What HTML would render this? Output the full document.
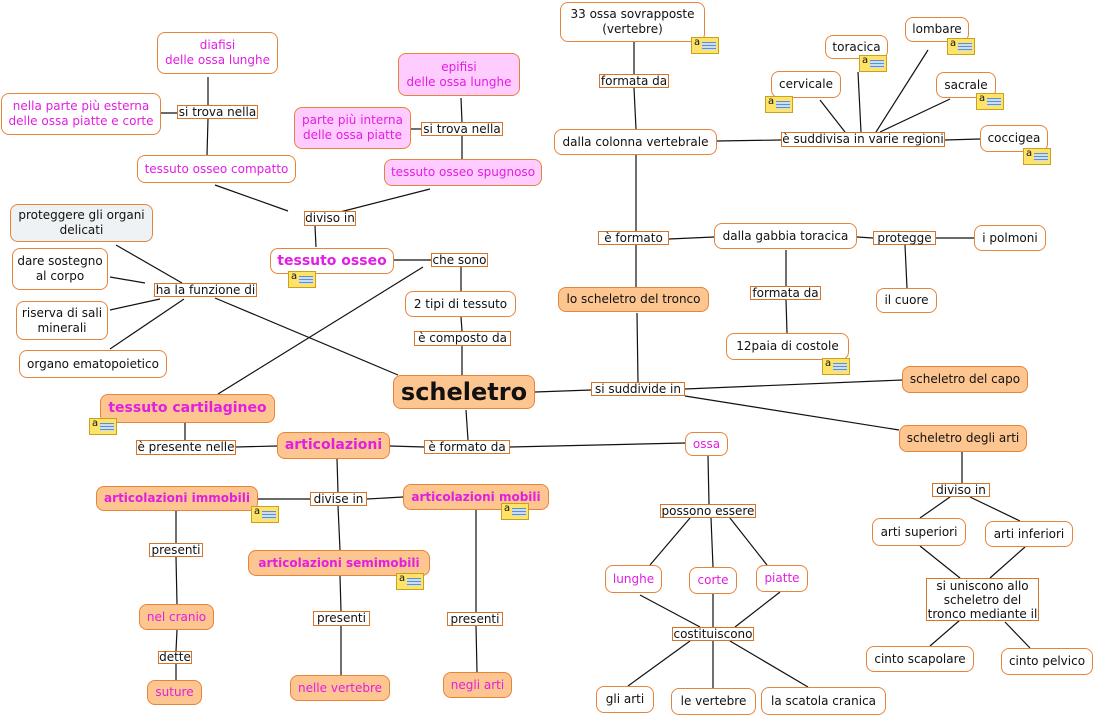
<!DOCTYPE html>
<html><head><meta charset="utf-8"><style>
body{margin:0;width:1095px;height:717px;background:#fff;position:relative;overflow:hidden;font-family:"DejaVu Sans","Liberation Sans",sans-serif;font-size:12px;color:#111}
.n{position:absolute;box-sizing:border-box;border:1.5px solid #e8843a;border-radius:8px;background:#fff;display:flex;align-items:center;justify-content:center;text-align:center;line-height:15px;white-space:nowrap}
.m{color:#e21ee2}.p{background:#ffccff}.o{background:#fdc590}.g{background:#eef2f4}
.b{font-weight:bold}
.l{position:absolute;box-sizing:border-box;border:1.2px solid #d8742a;background:#fff;display:flex;align-items:center;justify-content:center;line-height:13px;white-space:nowrap;font-size:12px}
.i{position:absolute;width:28px;height:17px;background:#fde36a;border:1px solid #c9a21a;box-sizing:border-box;font-size:10px;line-height:10px;padding-left:2px}
.i:after{content:"";position:absolute;left:10px;top:4px;width:14px;height:8px;background:repeating-linear-gradient(#5a8fd0 0 1px,#cde 1px 3px)}
svg{position:absolute;left:0;top:0}
</style></head><body>
<svg width="1095" height="717" stroke="#111" stroke-width="1.2">
<line x1="634" y1="42" x2="634" y2="74"/><line x1="634" y1="88" x2="636" y2="129"/>
<line x1="717" y1="141" x2="781" y2="140"/><line x1="945" y1="140" x2="980" y2="139"/>
<line x1="861" y1="132" x2="858" y2="72"/><line x1="876" y1="132" x2="928" y2="50"/>
<line x1="845" y1="132" x2="820" y2="100"/><line x1="880" y1="132" x2="950" y2="99"/>
<line x1="636" y1="155" x2="636" y2="231"/><line x1="636" y1="245" x2="636" y2="287"/>
<line x1="669" y1="239" x2="714" y2="237"/><line x1="857" y1="237" x2="873" y2="238"/>
<line x1="936" y1="238" x2="974" y2="238"/><line x1="905" y1="245" x2="907" y2="288"/>
<line x1="786" y1="250" x2="786" y2="286"/><line x1="786" y1="300" x2="787" y2="333"/>
<line x1="637" y1="313" x2="638" y2="382"/><line x1="685" y1="389" x2="902" y2="380"/>
<line x1="685" y1="396" x2="899" y2="430"/><line x1="535" y1="392" x2="591" y2="390"/>
<line x1="461" y1="317" x2="462" y2="331"/><line x1="462" y1="346" x2="462" y2="375"/>
<line x1="461" y1="267" x2="461" y2="291"/><line x1="394" y1="260" x2="431" y2="260"/>
<line x1="423" y1="267" x2="218" y2="394"/><line x1="215" y1="298" x2="398" y2="375"/>
<line x1="208" y1="77" x2="208" y2="105"/><line x1="208" y1="119" x2="207" y2="155"/>
<line x1="158" y1="113" x2="177" y2="113"/>
<line x1="461" y1="98" x2="462" y2="122"/><line x1="462" y1="136" x2="462" y2="159"/>
<line x1="411" y1="129" x2="421" y2="129"/>
<line x1="215" y1="185" x2="288" y2="211"/><line x1="430" y1="189" x2="340" y2="212"/>
<line x1="315" y1="226" x2="316" y2="247"/>
<line x1="116" y1="245" x2="182" y2="283"/><line x1="110" y1="277" x2="145" y2="283"/>
<line x1="110" y1="310" x2="160" y2="299"/><line x1="110" y1="349" x2="184" y2="299"/>
<line x1="466" y1="410" x2="468" y2="440"/><line x1="390" y1="446" x2="424" y2="447"/>
<line x1="510" y1="447" x2="685" y2="443"/><line x1="277" y1="446" x2="236" y2="447"/>
<line x1="185" y1="440" x2="185" y2="423"/>
<line x1="337" y1="459" x2="338" y2="492"/><line x1="258" y1="499" x2="310" y2="499"/>
<line x1="367" y1="499" x2="403" y2="497"/><line x1="338" y1="506" x2="340" y2="550"/>
<line x1="176" y1="511" x2="176" y2="543"/><line x1="176" y1="557" x2="177" y2="604"/>
<line x1="177" y1="630" x2="176" y2="651"/><line x1="176" y1="664" x2="176" y2="680"/>
<line x1="340" y1="576" x2="341" y2="611"/><line x1="341" y1="626" x2="341" y2="675"/>
<line x1="476" y1="510" x2="476" y2="612"/><line x1="476" y1="626" x2="477" y2="672"/>
<line x1="708" y1="456" x2="709" y2="504"/><line x1="690" y1="518" x2="650" y2="565"/>
<line x1="711" y1="518" x2="713" y2="567"/><line x1="730" y1="518" x2="767" y2="565"/>
<line x1="640" y1="595" x2="700" y2="627"/><line x1="713" y1="594" x2="713" y2="627"/>
<line x1="780" y1="592" x2="735" y2="627"/>
<line x1="690" y1="641" x2="628" y2="686"/><line x1="713" y1="641" x2="713" y2="688"/>
<line x1="730" y1="641" x2="808" y2="687"/>
<line x1="962" y1="452" x2="962" y2="483"/><line x1="950" y1="497" x2="920" y2="518"/>
<line x1="970" y1="497" x2="1020" y2="521"/><line x1="920" y1="546" x2="960" y2="578"/>
<line x1="1025" y1="547" x2="990" y2="578"/><line x1="960" y1="620" x2="930" y2="646"/>
<line x1="1005" y1="622" x2="1030" y2="648"/>
</svg>
<div class="n" style="left:560px;top:2px;width:145px;height:40px">33 ossa sovrapposte<br>(vertebre)</div>
<div class="n m" style="left:157px;top:32px;width:121px;height:42px">diafisi<br>delle ossa lunghe</div>
<div class="n m p" style="left:398px;top:53px;width:122px;height:43px">epifisi<br>delle ossa lunghe</div>
<div class="n m" style="left:1px;top:93px;width:160px;height:42px">nella parte più esterna<br>delle ossa piatte e corte</div>
<div class="n m p" style="left:294px;top:107px;width:117px;height:42px">parte più interna<br>delle ossa piatte</div>
<div class="n m" style="left:137px;top:155px;width:159px;height:28px">tessuto osseo compatto</div>
<div class="n m p" style="left:384px;top:159px;width:158px;height:27px">tessuto osseo spugnoso</div>
<div class="n" style="left:554px;top:129px;width:163px;height:26px">dalla colonna vertebrale</div>
<div class="n" style="left:825px;top:35px;width:63px;height:24px">toracica</div>
<div class="n" style="left:905px;top:17px;width:64px;height:25px">lombare</div>
<div class="n" style="left:771px;top:71px;width:70px;height:27px">cervicale</div>
<div class="n" style="left:936px;top:72px;width:60px;height:26px">sacrale</div>
<div class="n" style="left:980px;top:125px;width:68px;height:27px">coccigea</div>
<div class="n g" style="left:10px;top:204px;width:143px;height:38px">proteggere gli organi<br>delicati</div>
<div class="n" style="left:12px;top:248px;width:96px;height:42px">dare sostegno<br>al corpo</div>
<div class="n" style="left:16px;top:301px;width:92px;height:39px">riserva di sali<br>minerali</div>
<div class="n" style="left:19px;top:350px;width:148px;height:28px">organo ematopoietico</div>
<div class="n m b" style="left:270px;top:248px;width:124px;height:26px;font-size:14px">tessuto osseo</div>
<div class="n" style="left:714px;top:223px;width:143px;height:26px">dalla gabbia toracica</div>
<div class="n" style="left:974px;top:225px;width:72px;height:26px">i polmoni</div>
<div class="n" style="left:876px;top:288px;width:61px;height:25px">il cuore</div>
<div class="n" style="left:405px;top:291px;width:111px;height:26px">2 tipi di tessuto</div>
<div class="n o" style="left:558px;top:287px;width:151px;height:25px">lo scheletro del tronco</div>
<div class="n" style="left:726px;top:333px;width:123px;height:27px">12paia di costole</div>
<div class="n o b" style="left:393px;top:375px;width:142px;height:34px;font-size:24px">scheletro</div>
<div class="n o" style="left:902px;top:366px;width:126px;height:27px">scheletro del capo</div>
<div class="n o m b" style="left:100px;top:394px;width:175px;height:29px;font-size:14px">tessuto cartilagineo</div>
<div class="n o m b" style="left:277px;top:432px;width:113px;height:27px;font-size:14px">articolazioni</div>
<div class="n o" style="left:899px;top:425px;width:128px;height:27px">scheletro degli arti</div>
<div class="n m" style="left:685px;top:432px;width:43px;height:24px">ossa</div>
<div class="n o m b" style="left:96px;top:486px;width:162px;height:25px">articolazioni immobili</div>
<div class="n o m b" style="left:403px;top:484px;width:146px;height:26px">articolazioni mobili</div>
<div class="n" style="left:872px;top:518px;width:94px;height:28px">arti superiori</div>
<div class="n" style="left:985px;top:521px;width:88px;height:26px">arti inferiori</div>
<div class="n o m b" style="left:248px;top:550px;width:182px;height:26px">articolazioni semimobili</div>
<div class="n m" style="left:605px;top:565px;width:57px;height:28px">lunghe</div>
<div class="n m" style="left:689px;top:567px;width:48px;height:27px">corte</div>
<div class="n m" style="left:756px;top:565px;width:52px;height:27px">piatte</div>
<div class="l" style="left:926px;top:578px;width:113px;height:43px;line-height:14px;text-align:center">si uniscono allo<br>scheletro del<br>tronco mediante il</div>
<div class="n o m" style="left:139px;top:604px;width:75px;height:26px">nel cranio</div>
<div class="n" style="left:866px;top:646px;width:108px;height:26px">cinto scapolare</div>
<div class="n" style="left:1001px;top:648px;width:92px;height:27px">cinto pelvico</div>
<div class="n o m" style="left:147px;top:680px;width:55px;height:25px">suture</div>
<div class="n o m" style="left:290px;top:675px;width:100px;height:26px">nelle vertebre</div>
<div class="n o m" style="left:443px;top:672px;width:69px;height:26px">negli arti</div>
<div class="n" style="left:596px;top:686px;width:58px;height:27px">gli arti</div>
<div class="n" style="left:671px;top:688px;width:85px;height:27px">le vertebre</div>
<div class="n" style="left:761px;top:687px;width:125px;height:28px">la scatola cranica</div>

<div class="l" style="left:599px;top:74px;width:70px;height:14px">formata da</div>
<div class="l" style="left:781px;top:132px;width:164px;height:15px">è suddivisa in varie regioni</div>
<div class="l" style="left:177px;top:105px;width:81px;height:14px">si trova nella</div>
<div class="l" style="left:421px;top:122px;width:82px;height:14px">si trova nella</div>
<div class="l" style="left:304px;top:211px;width:52px;height:15px">diviso in</div>
<div class="l" style="left:431px;top:253px;width:57px;height:14px">che sono</div>
<div class="l" style="left:154px;top:283px;width:103px;height:14px">ha la funzione di</div>
<div class="l" style="left:598px;top:231px;width:71px;height:14px">è formato</div>
<div class="l" style="left:873px;top:231px;width:63px;height:14px">protegge</div>
<div class="l" style="left:750px;top:286px;width:71px;height:14px">formata da</div>
<div class="l" style="left:414px;top:331px;width:97px;height:15px">è composto da</div>
<div class="l" style="left:591px;top:382px;width:94px;height:14px">si suddivide in</div>
<div class="l" style="left:136px;top:440px;width:100px;height:15px">è presente nelle</div>
<div class="l" style="left:424px;top:440px;width:86px;height:14px">è formato da</div>
<div class="l" style="left:310px;top:492px;width:57px;height:14px">divise in</div>
<div class="l" style="left:932px;top:483px;width:58px;height:14px">diviso in</div>
<div class="l" style="left:660px;top:504px;width:96px;height:14px">possono essere</div>
<div class="l" style="left:149px;top:543px;width:54px;height:14px">presenti</div>
<div class="l" style="left:313px;top:611px;width:57px;height:15px">presenti</div>
<div class="l" style="left:447px;top:612px;width:56px;height:14px">presenti</div>
<div class="l" style="left:158px;top:651px;width:34px;height:13px">dette</div>
<div class="l" style="left:672px;top:627px;width:82px;height:14px">costituiscono</div>

<div class="i" style="left:691px;top:37px">a</div>
<div class="i" style="left:859px;top:55px">a</div>
<div class="i" style="left:947px;top:38px">a</div>
<div class="i" style="left:765px;top:96px">a</div>
<div class="i" style="left:976px;top:93px">a</div>
<div class="i" style="left:1023px;top:148px">a</div>
<div class="i" style="left:288px;top:271px">a</div>
<div class="i" style="left:822px;top:358px">a</div>
<div class="i" style="left:89px;top:418px">a</div>
<div class="i" style="left:251px;top:506px">a</div>
<div class="i" style="left:501px;top:503px">a</div>
<div class="i" style="left:396px;top:573px">a</div>
</body></html>
